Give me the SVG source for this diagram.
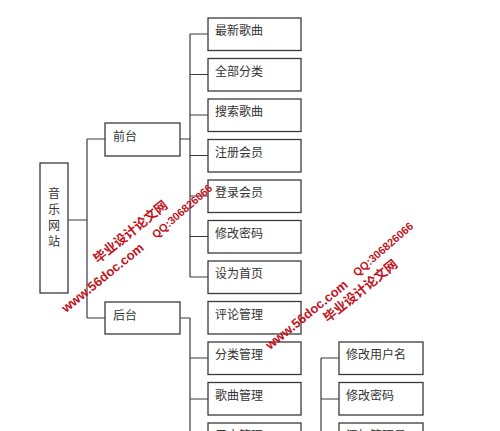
<svg xmlns="http://www.w3.org/2000/svg" width="500" height="431" viewBox="0 0 500 431">
<style>
.box{fill:#fff;stroke:#3a3a3a;stroke-width:1.3}
.t{font-family:"Noto Sans CJK SC","Liberation Sans",sans-serif;font-size:12px;fill:#333}
.ln{fill:none;stroke:#3a3a3a;stroke-width:1.2}
.wm{font-family:"Liberation Sans","Noto Sans CJK SC",sans-serif;font-weight:bold;fill:#c0141e}
</style>
<rect width="500" height="431" fill="#fff"/>
<g id="connectors" class="ln">
<path d="M68 220H87M87 139V318M87 139H105M87 318H105"/>
<path d="M180 139H190M190 34V277M190 34H208M190 74.5H208M190 115H208M190 155.5H208M190 196H208M190 236.5H208M190 277H208"/>
<path d="M180 318H190M190 318V431M190 358H208M190 399H208M190 439H208"/>
<path d="M321 358V431M321 358H339M321 399H339M321 439H339"/>
</g>
<g id="n-root"><rect class="box" x="40" y="163" width="28" height="130"/>
<text class="t" x="54" y="198" text-anchor="middle">音</text><text class="t" x="54" y="214" text-anchor="middle">乐</text><text class="t" x="54" y="230" text-anchor="middle">网</text><text class="t" x="54" y="246" text-anchor="middle">站</text></g>
<g id="n-front"><rect class="box" x="105" y="123" width="75" height="33"/><text class="t" x="113" y="141">前台</text></g>
<g id="n-back"><rect class="box" x="105" y="302" width="75" height="32"/><text class="t" x="113" y="320">后台</text></g>
<g id="n-f1"><rect class="box" x="208" y="18" width="93" height="32.5"/><text class="t" x="215" y="35">最新歌曲</text></g>
<g id="n-f2"><rect class="box" x="208" y="58.5" width="93" height="32.5"/><text class="t" x="215" y="75.5">全部分类</text></g>
<g id="n-f3"><rect class="box" x="208" y="99" width="93" height="32.5"/><text class="t" x="215" y="116">搜索歌曲</text></g>
<g id="n-f4"><rect class="box" x="208" y="139.5" width="93" height="32.5"/><text class="t" x="215" y="156.5">注册会员</text></g>
<g id="n-f5"><rect class="box" x="208" y="180" width="93" height="32.5"/><text class="t" x="215" y="197">登录会员</text></g>
<g id="n-f6"><rect class="box" x="208" y="220.5" width="93" height="32.5"/><text class="t" x="215" y="237.5">修改密码</text></g>
<g id="n-f7"><rect class="box" x="208" y="261" width="93" height="32.5"/><text class="t" x="215" y="278">设为首页</text></g>
<g id="n-b1"><rect class="box" x="208" y="301.5" width="93" height="32.5"/><text class="t" x="215" y="318.5">评论管理</text></g>
<g id="n-b2"><rect class="box" x="208" y="342" width="93" height="32.5"/><text class="t" x="215" y="359">分类管理</text></g>
<g id="n-b3"><rect class="box" x="208" y="382.5" width="93" height="32.5"/><text class="t" x="215" y="399.5">歌曲管理</text></g>
<g id="n-b4"><rect class="box" x="208" y="423" width="93" height="32.5"/><text class="t" x="215" y="440">用户管理</text></g>
<g id="n-r1"><rect class="box" x="339" y="342" width="84" height="32.5"/><text class="t" x="346" y="359">修改用户名</text></g>
<g id="n-r2"><rect class="box" x="339" y="382.5" width="84" height="32.5"/><text class="t" x="346" y="399.5">修改密码</text></g>
<g id="n-r3"><rect class="box" x="339" y="423" width="84" height="32.5"/><text class="t" x="346" y="440">添加管理员</text></g>
<g id="watermark-left">
<text class="wm" font-size="13" transform="translate(98 264) rotate(-39)">毕业设计论文网</text>
<text class="wm" font-size="13" transform="translate(66 313) rotate(-39)">www.56doc.com</text>
<text class="wm" font-size="11" font-weight="normal" transform="translate(156 239) rotate(-41)">QQ:306826066</text>
</g>
<g id="watermark-right">
<text class="wm" font-size="13" transform="translate(328 323) rotate(-39)">毕业设计论文网</text>
<text class="wm" font-size="13" transform="translate(270 350) rotate(-39)">www.56doc.com</text>
<text class="wm" font-size="11" font-weight="normal" transform="translate(357 277) rotate(-41)">QQ:306826066</text>
</g>
</svg>
